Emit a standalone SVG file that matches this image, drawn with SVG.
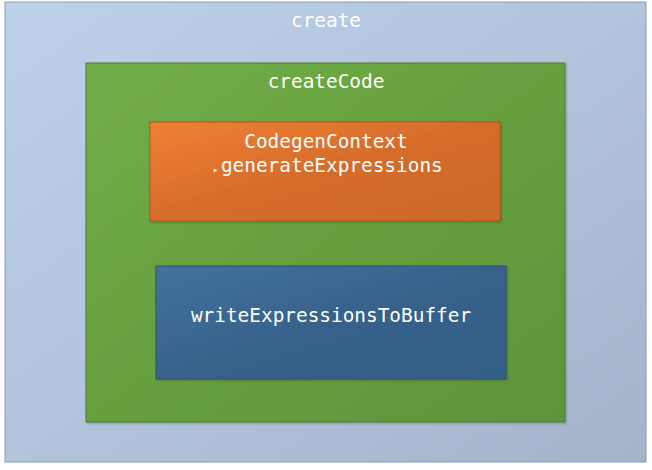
<svg xmlns="http://www.w3.org/2000/svg" width="652" height="470" viewBox="0 0 652 470">
<defs>
<linearGradient id="gOuter" x1="0" y1="0" x2="1" y2="1"><stop offset="0" stop-color="#bdd1ea"/><stop offset="0.5" stop-color="#b2c3dc"/><stop offset="1" stop-color="#a4b3ca"/></linearGradient>
<linearGradient id="gGreen" x1="0" y1="0" x2="1" y2="1"><stop offset="0" stop-color="#71ae48"/><stop offset="0.5" stop-color="#66a03e"/><stop offset="1" stop-color="#5e943a"/></linearGradient>
<linearGradient id="gOrange" x1="0" y1="0" x2="1" y2="1"><stop offset="0" stop-color="#f08133"/><stop offset="0.5" stop-color="#d56c2c"/><stop offset="1" stop-color="#cc692b"/></linearGradient>
<linearGradient id="gBlue" x1="0" y1="0" x2="1" y2="1"><stop offset="0" stop-color="#4472a0"/><stop offset="0.5" stop-color="#37628b"/><stop offset="1" stop-color="#335e86"/></linearGradient>
<filter id="sh" x="-5%" y="-5%" width="110%" height="110%"><feDropShadow dx="1" dy="1" stdDeviation="1.2" flood-color="#000" flood-opacity="0.25"/></filter>
</defs>
<style>
text{font-family:"DejaVu Sans Mono","Liberation Mono",monospace;font-size:19.4px;fill:#fff;text-anchor:middle}
</style>
<g id="create">
<rect x="5" y="2" width="641" height="460" fill="url(#gOuter)" stroke="#8a9bb5" stroke-width="1"/>
<text x="326" y="27">create</text>
</g>
<g id="createCode">
<rect x="86" y="63" width="479" height="359" fill="url(#gGreen)" stroke="#4e7d31" stroke-width="1" filter="url(#sh)"/>
<text x="326" y="88">createCode</text>
</g>
<g id="generateExpressions">
<rect x="150" y="122" width="350" height="99" fill="url(#gOrange)" stroke="#b5561c" stroke-width="1" filter="url(#sh)"/>
<text x="326" y="148">CodegenContext</text>
<text x="326" y="172">.generateExpressions</text>
</g>
<g id="writeExpressionsToBuffer">
<rect x="156" y="266" width="350" height="113" fill="url(#gBlue)" stroke="#2c5275" stroke-width="1" filter="url(#sh)"/>
<text x="331" y="322">writeExpressionsToBuffer</text>
</g>
<g id="connectors"></g>
</svg>
